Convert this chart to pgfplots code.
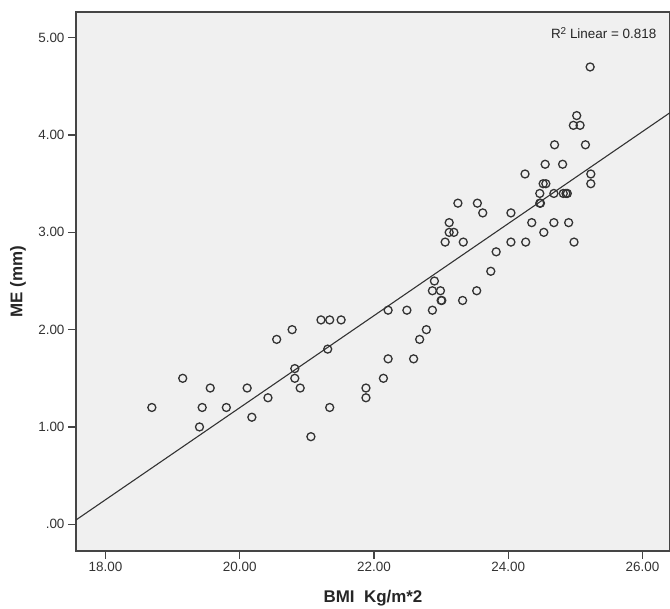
\documentclass[border=0pt]{standalone}
\usepackage{fontspec}
\setmainfont{Liberation Sans}
\usepackage{pgfplots}
\pgfplotsset{compat=1.18}
\usetikzlibrary{calc}
\definecolor{panel}{HTML}{F0F0F0}
\definecolor{frame}{HTML}{454545}
\definecolor{ink}{HTML}{333333}

\begin{document}
\begin{tikzpicture}
\begin{axis}[
  scale only axis, width=594bp, height=539bp,
  xmin=17.56, xmax=26.41, ymin=-0.275, ymax=5.265,
  axis background/.style={fill=panel},
  axis line style={frame, line width=1.3bp},
  xtick={18,20,22,24,26}, xticklabels={18.00,20.00,22.00,24.00,26.00},
  ytick={0,1,2,3,4,5}, yticklabels={.00,1.00,2.00,3.00,4.00,5.00},
  tick align=outside, major tick length=8bp,
  xtick pos=bottom, ytick pos=left,
  tick style={frame, line width=1.3bp},
  ticklabel style={font=\fontsize{13.5}{15}\selectfont, text=ink},
  xlabel={BMI\ \ Kg/m*2}, ylabel={ME (mm)},
  label style={font=\bfseries\fontsize{17}{20}\selectfont, text=black!85},
  xlabel style={at={(axis description cs:0.5,-0.0872)}, anchor=center},
  ylabel style={at={(axis description cs:-0.0976,0.5)}, anchor=center},
]
% BMI vs ME
\addplot[only marks, mark=o, mark size=4bp, mark options={ink, line width=1.3bp}] coordinates {
(18.69,1.2) (19.15,1.5) (19.40,1.0) (19.44,1.2) (19.56,1.4) (19.80,1.2)
(20.11,1.4) (20.18,1.1) (20.42,1.3) (20.55,1.9) (20.78,2.0) (20.82,1.6)
(20.82,1.5) (20.90,1.4) (21.06,0.9) (21.21,2.1) (21.34,2.1) (21.51,2.1)
(21.31,1.8) (21.34,1.2) (21.88,1.4) (21.88,1.3) (22.14,1.5) (22.21,1.7)
(22.59,1.7) (22.21,2.2) (22.49,2.2) (22.87,2.2) (22.68,1.9) (22.78,2.0)
(22.87,2.4) (22.99,2.4) (23.00,2.3) (23.01,2.3) (23.32,2.3) (23.53,2.4)
(22.90,2.5) (23.74,2.6) (23.82,2.8) (23.06,2.9) (23.33,2.9) (24.04,2.9)
(24.26,2.9) (24.98,2.9) (23.12,3.0) (23.19,3.0) (23.12,3.1) (23.25,3.3)
(23.54,3.3) (23.62,3.2) (24.04,3.2) (24.35,3.1) (24.53,3.0) (24.68,3.1)
(24.90,3.1) (24.47,3.3) (24.48,3.3) (24.47,3.4) (24.68,3.4) (24.82,3.4)
(24.86,3.4) (24.88,3.4) (24.52,3.5) (24.56,3.5) (25.23,3.5) (25.23,3.6)
(24.25,3.6) (24.55,3.7) (24.81,3.7) (24.69,3.9) (25.15,3.9) (24.97,4.1)
(25.07,4.1) (25.02,4.2) (25.22,4.7)
};
% fit line
\addplot[ink, line width=1.1bp] coordinates {(17.56,0.044) (26.41,4.23)};
\node[anchor=east, font=\fontsize{13.5}{15}\selectfont, text=black!85] at (rel axis cs:0.983,0.961) {R{\fontsize{10}{10}\selectfont\raisebox{0.45em}{2}} Linear = 0.818};
\end{axis}
\pgfresetboundingbox
\path ($(current axis.south west)+(-76bp,-58bp)$) rectangle ($(current axis.north east)+(0bp,12bp)$);
\end{tikzpicture}
\end{document}
